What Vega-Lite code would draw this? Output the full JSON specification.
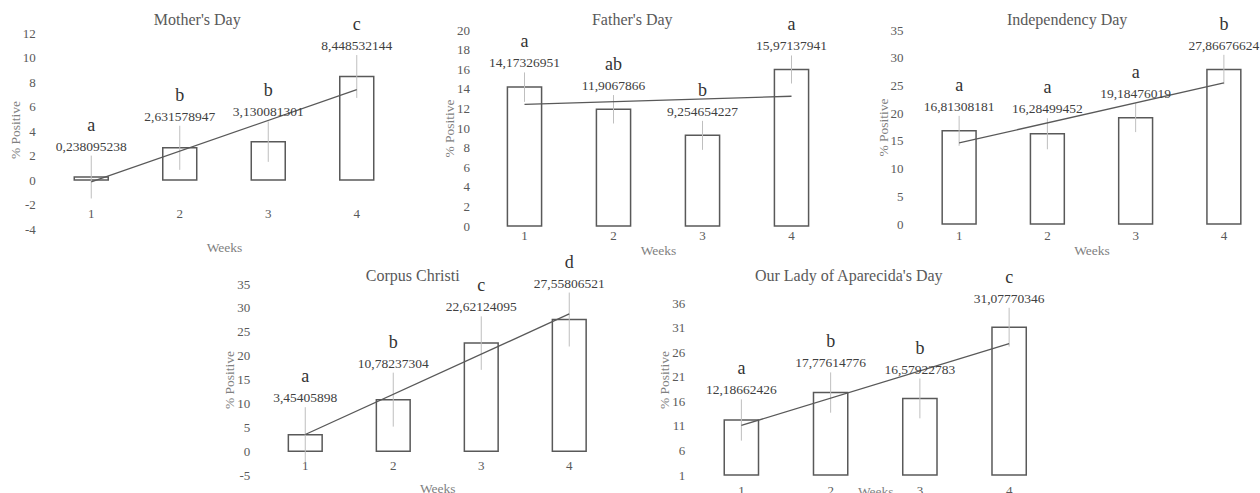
{
  "$schema": "https://vega.github.io/schema/vega-lite/v6.json",
  "padding": {"left": 8, "top": 11, "right": 0, "bottom": 0},
  "config": {
    "font": "Liberation Serif",
    "view": {"stroke": null},
    "axis": {"domain": false, "ticks": false, "grid": false, "labelFontSize": 13, "labelColor": "#595959", "titleFontSize": 13.5, "titleColor": "#7f7f7f", "titleFontWeight": "normal", "labelFont": "Liberation Serif", "titleFont": "Liberation Serif"},
    "axisX": {"labelAngle": 0},
    "title": {"fontSize": 16, "fontWeight": "normal", "color": "#595959", "font": "Liberation Serif", "frame": "group", "baseline": "bottom"},
    "locale": {"number": {"decimal": ",", "thousands": ".", "grouping": [3], "currency": ["", ""], "minus": "-"}}
  },
  "datasets": {
    "d": [
      {"panel": "Mother", "week": 1, "value": 0.238095238, "lo": -1.51, "hi": 1.99, "group": "a"},
      {"panel": "Mother", "week": 2, "value": 2.631578947, "lo": 0.83, "hi": 4.43, "group": "b"},
      {"panel": "Mother", "week": 3, "value": 3.130081301, "lo": 1.48, "hi": 4.78, "group": "b"},
      {"panel": "Mother", "week": 4, "value": 8.448532144, "lo": 6.70, "hi": 10.20, "group": "c"},
      {"panel": "Father", "week": 1, "value": 14.17326951, "lo": 12.67, "hi": 15.67, "group": "a"},
      {"panel": "Father", "week": 2, "value": 11.9067866, "lo": 10.46, "hi": 13.36, "group": "ab"},
      {"panel": "Father", "week": 3, "value": 9.254654227, "lo": 7.77, "hi": 10.73, "group": "b"},
      {"panel": "Father", "week": 4, "value": 15.97137941, "lo": 14.54, "hi": 17.40, "group": "a"},
      {"panel": "Indep", "week": 1, "value": 16.81308181, "lo": 14.11, "hi": 19.51, "group": "a"},
      {"panel": "Indep", "week": 2, "value": 16.28499452, "lo": 13.48, "hi": 19.08, "group": "a"},
      {"panel": "Indep", "week": 3, "value": 19.18476019, "lo": 16.58, "hi": 21.78, "group": "a"},
      {"panel": "Indep", "week": 4, "value": 27.86676624, "lo": 25.22, "hi": 30.52, "group": "b"},
      {"panel": "Corpus", "week": 1, "value": 3.45405898, "lo": -2.30, "hi": 9.20, "group": "a"},
      {"panel": "Corpus", "week": 2, "value": 10.78237304, "lo": 5.13, "hi": 16.43, "group": "b"},
      {"panel": "Corpus", "week": 3, "value": 22.62124095, "lo": 17.02, "hi": 28.22, "group": "c"},
      {"panel": "Corpus", "week": 4, "value": 27.55806521, "lo": 21.91, "hi": 33.21, "group": "d"},
      {"panel": "Lady", "week": 1, "value": 12.18662426, "lo": 7.99, "hi": 16.39, "group": "a"},
      {"panel": "Lady", "week": 2, "value": 17.77614776, "lo": 13.68, "hi": 21.88, "group": "b"},
      {"panel": "Lady", "week": 3, "value": 16.57922783, "lo": 12.53, "hi": 20.63, "group": "b"},
      {"panel": "Lady", "week": 4, "value": 31.07770346, "lo": 27.13, "hi": 35.03, "group": "c"}
    ]
  },
  "spacing": -4,
  "center": true,
  "vconcat": [
    {
      "hconcat": [
        {
          "title": {"text": "Mother's Day", "dx": -26.75, "offset": -11.85},
          "width": 354, "height": 199,
          "data": {"name": "d"},
          "transform": [{"filter": "datum.panel === 'Mother'"}],
          "encoding": {"x": {"field": "week", "type": "ordinal", "scale": {"paddingInner": 0.616, "paddingOuter": 0.308}, "axis": {"title": "Weeks", "offset": -22, "labelPadding": 0, "titlePadding": 20}}},
          "resolve": {"axis": {"y": "independent"}},
          "layer": [
            {"mark": {"type": "bar", "fill": "white", "stroke": "#595959", "strokeWidth": 1.5}, "encoding": {"y": {"field": "value", "type": "quantitative", "title": "% Positive", "scale": {"domain": [-4, 12.245], "nice": false, "zero": false}, "axis": {"values": [-4, -2, 0, 2, 4, 6, 8, 10, 12], "labelOverlap": false, "labelPadding": 11.75, "titlePadding": 0}}}},
            {"mark": {"type": "rule", "color": "#bfbfbf", "strokeWidth": 1}, "encoding": {"y": {"field": "lo", "type": "quantitative", "axis": null}, "y2": {"field": "hi"}}},
            {"transform": [{"regression": "value", "on": "week"}], "mark": {"type": "line", "color": "#595959", "strokeWidth": 1.3}, "encoding": {"y": {"field": "value", "type": "quantitative", "axis": null}}},
            {"mark": {"type": "text", "baseline": "middle", "dy": -9, "fontSize": 13.5, "color": "#404040"}, "encoding": {"y": {"field": "hi", "type": "quantitative", "axis": null}, "text": {"field": "value", "type": "quantitative", "format": ".10~g"}}},
            {"mark": {"type": "text", "baseline": "middle", "dy": -30, "fontSize": 18, "color": "#333333"}, "encoding": {"y": {"field": "hi", "type": "quantitative", "axis": null}, "text": {"field": "group"}}}
          ]
        },
        {
          "title": {"text": "Father's Day", "dx": -25.75, "offset": -11.4},
          "width": 356, "height": 196,
          "data": {"name": "d"},
          "transform": [{"filter": "datum.panel === 'Father'"}],
          "encoding": {"x": {"field": "week", "type": "ordinal", "scale": {"paddingInner": 0.616, "paddingOuter": 0.308}, "axis": {"title": "Weeks", "labelPadding": 3, "titlePadding": 1}}},
          "resolve": {"axis": {"y": "independent"}},
          "layer": [
            {"mark": {"type": "bar", "fill": "white", "stroke": "#595959", "strokeWidth": 1.5}, "encoding": {"y": {"field": "value", "type": "quantitative", "title": "% Positive", "scale": {"domain": [0, 20], "nice": false}, "axis": {"values": [0, 2, 4, 6, 8, 10, 12, 14, 16, 18, 20], "labelOverlap": false, "labelPadding": 10.5, "titlePadding": 0}}}},
            {"mark": {"type": "rule", "color": "#bfbfbf", "strokeWidth": 1}, "encoding": {"y": {"field": "lo", "type": "quantitative", "axis": null}, "y2": {"field": "hi"}}},
            {"transform": [{"regression": "value", "on": "week"}], "mark": {"type": "line", "color": "#595959", "strokeWidth": 1.3}, "encoding": {"y": {"field": "value", "type": "quantitative", "axis": null}}},
            {"mark": {"type": "text", "baseline": "middle", "dy": -9, "fontSize": 13.5, "color": "#404040"}, "encoding": {"y": {"field": "hi", "type": "quantitative", "axis": null}, "text": {"field": "value", "type": "quantitative", "format": ".10~g"}}},
            {"mark": {"type": "text", "baseline": "middle", "dy": -30, "fontSize": 18, "color": "#333333"}, "encoding": {"y": {"field": "hi", "type": "quantitative", "axis": null}, "text": {"field": "group"}}}
          ]
        },
        {
          "title": {"text": "Independency Day", "dx": -24.4, "offset": -12.1},
          "width": 353, "height": 194,
          "data": {"name": "d"},
          "transform": [{"filter": "datum.panel === 'Indep'"}],
          "encoding": {"x": {"field": "week", "type": "ordinal", "scale": {"paddingInner": 0.616, "paddingOuter": 0.308}, "axis": {"title": "Weeks", "labelPadding": 5, "titlePadding": 1}}},
          "resolve": {"axis": {"y": "independent"}},
          "layer": [
            {"mark": {"type": "bar", "fill": "white", "stroke": "#595959", "strokeWidth": 1.5}, "encoding": {"y": {"field": "value", "type": "quantitative", "title": "% Positive", "scale": {"domain": [0, 35], "nice": false}, "axis": {"values": [0, 5, 10, 15, 20, 25, 30, 35], "labelOverlap": false, "labelPadding": 12, "titlePadding": 0}}}},
            {"mark": {"type": "rule", "color": "#bfbfbf", "strokeWidth": 1}, "encoding": {"y": {"field": "lo", "type": "quantitative", "axis": null}, "y2": {"field": "hi"}}},
            {"transform": [{"regression": "value", "on": "week"}], "mark": {"type": "line", "color": "#595959", "strokeWidth": 1.3}, "encoding": {"y": {"field": "value", "type": "quantitative", "axis": null}}},
            {"mark": {"type": "text", "baseline": "middle", "dy": -9, "fontSize": 13.5, "color": "#404040"}, "encoding": {"y": {"field": "hi", "type": "quantitative", "axis": null}, "text": {"field": "value", "type": "quantitative", "format": ".10~g"}}},
            {"mark": {"type": "text", "baseline": "middle", "dy": -30, "fontSize": 18, "color": "#333333"}, "encoding": {"y": {"field": "hi", "type": "quantitative", "axis": null}, "text": {"field": "group"}}}
          ]
        }
      ],
      "spacing": 79,
      "bounds": "flush"
    },
    {
      "hconcat": [
        {
          "title": {"text": "Corpus Christi", "dx": -24.5, "offset": -30.6},
          "width": 352, "height": 191,
          "data": {"name": "d"},
          "transform": [{"filter": "datum.panel === 'Corpus'"}],
          "encoding": {"x": {"field": "week", "type": "ordinal", "scale": {"paddingInner": 0.616, "paddingOuter": 0.308}, "axis": {"title": "Weeks", "offset": -15.5, "labelPadding": 0, "titlePadding": 9}}},
          "resolve": {"axis": {"y": "independent"}},
          "layer": [
            {"mark": {"type": "bar", "fill": "white", "stroke": "#595959", "strokeWidth": 1.5}, "encoding": {"y": {"field": "value", "type": "quantitative", "title": "% Positive", "scale": {"domain": [-5, 35], "nice": false, "zero": false}, "axis": {"values": [-5, 0, 5, 10, 15, 20, 25, 30, 35], "labelOverlap": false, "labelPadding": 11.5, "titlePadding": 0}}}},
            {"mark": {"type": "rule", "color": "#bfbfbf", "strokeWidth": 1}, "encoding": {"y": {"field": "lo", "type": "quantitative", "axis": null}, "y2": {"field": "hi"}}},
            {"transform": [{"regression": "value", "on": "week"}], "mark": {"type": "line", "color": "#595959", "strokeWidth": 1.3}, "encoding": {"y": {"field": "value", "type": "quantitative", "axis": null}}},
            {"mark": {"type": "text", "baseline": "middle", "dy": -9, "fontSize": 13.5, "color": "#404040"}, "encoding": {"y": {"field": "hi", "type": "quantitative", "axis": null}, "text": {"field": "value", "type": "quantitative", "format": ".10~g"}}},
            {"mark": {"type": "text", "baseline": "middle", "dy": -30, "fontSize": 18, "color": "#333333"}, "encoding": {"y": {"field": "hi", "type": "quantitative", "axis": null}, "text": {"field": "group"}}}
          ]
        },
        {
          "title": {"text": "Our Lady of Aparecida's Day", "dx": -26.5, "offset": -15.3},
          "width": 357, "height": 191,
          "data": {"name": "d"},
          "transform": [{"filter": "datum.panel === 'Lady'"}],
          "encoding": {"x": {"field": "week", "type": "ordinal", "scale": {"paddingInner": 0.616, "paddingOuter": 0.308}, "axis": {"title": "Weeks", "labelPadding": 9, "titleY": 9, "titleBaseline": "top"}}},
          "resolve": {"axis": {"y": "independent"}},
          "layer": [
            {"mark": {"type": "bar", "fill": "white", "stroke": "#595959", "strokeWidth": 1.5}, "encoding": {"y": {"field": "value", "type": "quantitative", "title": "% Positive", "scale": {"domain": [1, 39.87], "nice": false, "zero": false}, "axis": {"values": [1, 6, 11, 16, 21, 26, 31, 36], "labelOverlap": false, "labelPadding": 12, "titlePadding": 0}}, "y2": {"datum": 1}}},
            {"mark": {"type": "rule", "color": "#bfbfbf", "strokeWidth": 1}, "encoding": {"y": {"field": "lo", "type": "quantitative", "axis": null}, "y2": {"field": "hi"}}},
            {"transform": [{"regression": "value", "on": "week"}], "mark": {"type": "line", "color": "#595959", "strokeWidth": 1.3}, "encoding": {"y": {"field": "value", "type": "quantitative", "axis": null}}},
            {"mark": {"type": "text", "baseline": "middle", "dy": -9, "fontSize": 13.5, "color": "#404040"}, "encoding": {"y": {"field": "hi", "type": "quantitative", "axis": null}, "text": {"field": "value", "type": "quantitative", "format": ".10~g"}}},
            {"mark": {"type": "text", "baseline": "middle", "dy": -30, "fontSize": 18, "color": "#333333"}, "encoding": {"y": {"field": "hi", "type": "quantitative", "axis": null}, "text": {"field": "group"}}}
          ]
        }
      ],
      "spacing": 83.5,
      "bounds": "flush"
    }
  ]
}
